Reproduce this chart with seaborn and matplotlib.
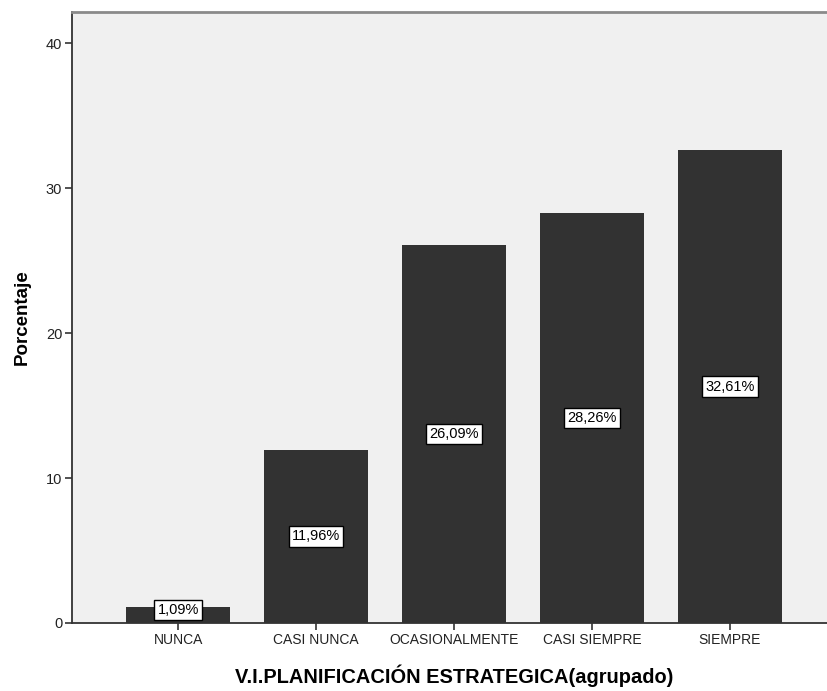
import matplotlib
matplotlib.use("Agg")
import matplotlib.pyplot as plt
import seaborn as sns
import pandas as pd

categories = ["NUNCA", "CASI NUNCA", "OCASIONALMENTE", "CASI SIEMPRE", "SIEMPRE"]
percentages = [1.09, 11.96, 26.09, 28.26, 32.61]
y_ticks = [0, 10, 20, 30, 40]
x_title = "V.I.PLANIFICACIÓN ESTRATEGICA(agrupado)"
y_title = "Porcentaje"

df = pd.DataFrame({"cat": categories, "pct": percentages})

sns.set_style("white")
plt.rcParams["font.family"] = ["Liberation Sans", "DejaVu Sans"]

W, H = 828, 691
fig = plt.figure(figsize=(W / 100, H / 100), dpi=100)
fig.patch.set_facecolor("white")
left_px, right_px, top_px, bottom_px = 72, 836, 12, 623
ax = fig.add_axes([left_px / W, 1 - bottom_px / H,
                   (right_px - left_px) / W, (bottom_px - top_px) / H])
ax.set_facecolor("#f0f0f0")

sns.barplot(data=df, x="cat", y="pct", color="#323232", width=0.75,
            saturation=1, linewidth=0, ax=ax, zorder=2)

ax.set_xlim(-0.77, 4.77)
ax.set_ylim(0, 42.14)
ax.set_yticks(y_ticks)
ax.set_yticklabels([str(t) for t in y_ticks], fontsize=10.5, color="#222222")
ax.set_xticks(range(len(categories)))
ax.set_xticklabels(categories, fontsize=10, color="#222222")
ax.tick_params(axis="both", direction="out", length=5, width=1.2,
               color="#333333", pad=2, bottom=True, left=True)

for side in ["left", "bottom"]:
    ax.spines[side].set_color("#333333")
    ax.spines[side].set_linewidth(1.3)
ax.spines["top"].set_color("#8a8a8a")
ax.spines["top"].set_linewidth(2)
ax.spines["right"].set_visible(False)

ax.set_xlabel(x_title, fontsize=14.4, fontweight="bold", labelpad=13, color="black")
ax.set_ylabel(y_title, fontsize=13.5, fontweight="bold", labelpad=11, color="black")

for i, v in enumerate(percentages):
    ypos = max(v / 2, 0.9)
    ax.text(i, ypos, f"{v:.2f}%".replace(".", ","), ha="center", va="center",
            fontsize=10.5, color="black", zorder=4,
            bbox=dict(boxstyle="square,pad=0.22", facecolor="white",
                      edgecolor="black", linewidth=1.0))

fig.savefig("out.png", dpi=100)
